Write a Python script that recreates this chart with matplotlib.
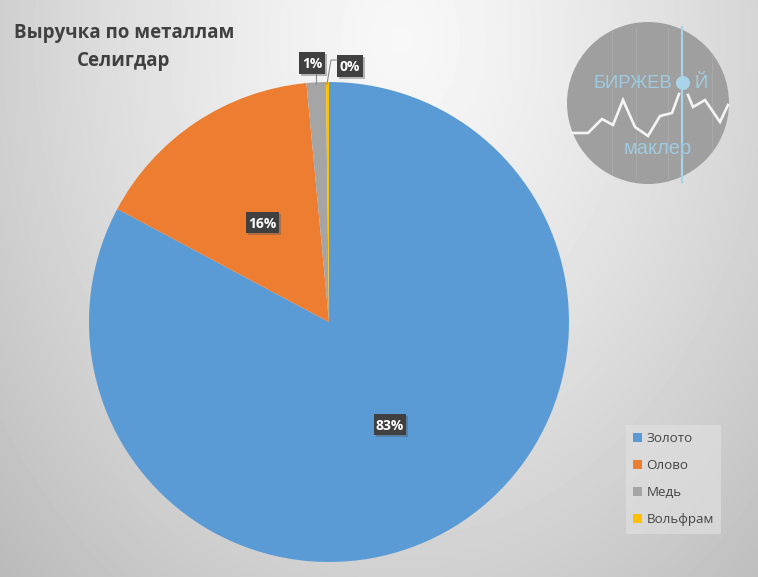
import numpy as np
import matplotlib
matplotlib.use('Agg')
import matplotlib.pyplot as plt
from matplotlib.patches import Circle, Rectangle

plt.rcParams['font.family'] = ['Open Sans', 'DejaVu Sans']

metals = ['Золото', 'Олово', 'Медь', 'Вольфрам']
share = [82.8, 15.7, 1.3, 0.2]
colors = ['#5B9BD5', '#ED7D31', '#A5A5A5', '#FFC000']

W, H = 758, 577
fig = plt.figure(figsize=(W / 100, H / 100), dpi=100)

# background gradient, in pixel coordinates
bg = fig.add_axes([0, 0, 1, 1], zorder=0)
xx, yy = np.meshgrid(np.arange(W), np.arange(H))
dist = np.sqrt(((xx - 400) / 560.0) ** 2 + ((yy - 40) / 760.0) ** 2)
shade = np.clip(0.97 - 0.24 * dist ** 1.3, 0.68, 1)
bg.imshow(shade, cmap='gray', vmin=0, vmax=1, extent=(0, W, H, 0), aspect='auto')
bg.set_xlim(0, W)
bg.set_ylim(H, 0)
bg.axis('off')

# pie
cx, cy, r = 329, 322, 240
ax = fig.add_axes([(cx - r) / W, (H - cy - r) / H, 2 * r / W, 2 * r / H], zorder=1)
wedges, _ = ax.pie(share, colors=colors, startangle=90, counterclock=False, radius=1,
                   wedgeprops={'linewidth': 0})
ax.set_xlim(-1, 1)
ax.set_ylim(-1, 1)

# overlay for labels and logo
top = fig.add_axes([0, 0, 1, 1], zorder=2)
top.set_xlim(0, W)
top.set_ylim(H, 0)
top.axis('off')
top.patch.set_alpha(0)

# leader lines
top.plot([316, 316], [74, 84], color='#8c8c8c', lw=0.8)
top.plot([337, 331, 327], [60, 60, 84], color='#8c8c8c', lw=0.8)

# data labels
boxes = [(374, 414, 32, 21), (246, 212, 33, 21), (299, 52, 26, 22), (337, 55, 26, 22)]
for v, (x, y, w, h) in zip(share, boxes):
    top.add_patch(Rectangle((x + 2, y + 2), w, h, color='#555555', alpha=0.4, lw=0))
    top.add_patch(Rectangle((x, y), w, h, color='#404040', lw=0))
    top.text(x + w / 2, y + h / 2 + 1, '%d%%' % round(v), color='white', fontsize=10,
             fontweight='bold', ha='center', va='center')

# title
top.text(124, 47, 'Выручка по металлам\nСелигдар', color='#404040', fontsize=13.5,
         fontweight='bold', ha='center', va='center', linespacing=1.5)

# logo
lx, ly, lr = 648, 103, 81
disc = Circle((lx, ly), lr, color='#9f9f9f', lw=0)
top.add_patch(disc)
for gx in [612, 636, 668, 712]:
    gl, = top.plot([gx, gx], [ly - 75, ly + 75], color='#a9a9a9', lw=0.8)
    gl.set_clip_path(disc)
top.plot([682, 682], [27, 182], color='#a9d3e8', lw=1.6)
line_x = [572, 588, 602, 613, 623, 635, 648, 660, 672, 679]
line_y = [133, 133, 119, 125, 100, 127, 136, 116, 113, 94]
line_x2 = [688, 693, 705, 720, 728]
line_y2 = [95, 107, 100, 122, 105]
top.plot(line_x, line_y, color='#f4f4f4', lw=1.9, solid_joinstyle='miter')
top.plot(line_x2, line_y2, color='#f4f4f4', lw=1.9, solid_joinstyle='miter')
top.add_patch(Circle((683, 83), 7, color='#a9d3e8', lw=0))
top.text(633, 83, 'БИРЖЕВ', color='#9fcbe0', fontsize=13.2, ha='center', va='center',
         family=['Liberation Sans'])
top.text(701, 83, 'Й', color='#9fcbe0', fontsize=13.2, ha='center', va='center',
         family=['Liberation Sans'])
top.text(658, 148, 'маклер', color='#9fcbe0', fontsize=14.5, ha='center', va='center',
         family=['Liberation Sans'])

# legend
leg = top.legend(wedges, metals, loc='upper left', bbox_to_anchor=(626 / W, 1 - 425 / H),
                 bbox_transform=fig.transFigure, frameon=True, fancybox=False,
                 facecolor='#e2e2e2', edgecolor='none', framealpha=0.6, fontsize=9.6,
                 labelcolor='#454545', handlelength=0.68, handleheight=0.68,
                 handletextpad=0.3, labelspacing=1.05, borderaxespad=0, borderpad=0.55)

fig.savefig('out.png', dpi=100)
